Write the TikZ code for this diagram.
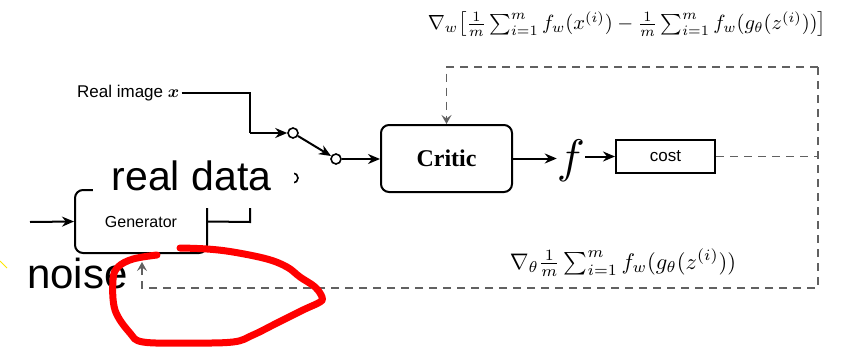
\documentclass[tikz,border=0pt]{standalone}
\usepackage{fontspec}
\usepackage{amsmath,bm}
\newfontfamily\arialf{Liberation Sans}
\newfontfamily\timesf{Liberation Serif}
\usetikzlibrary{arrows.meta}
\begin{document}
\begin{tikzpicture}[x=1pt,y=-1pt,
  blk/.style={draw=black,line width=2pt,rounded corners=8pt},
  arr/.style={line width=2pt,-{Stealth[length=12pt,width=10pt]}},
  fb/.style={draw=black!62,line width=1.8pt,dash pattern=on 8pt off 6pt},
  fbarr/.style={fb,-{Stealth[length=9pt,width=10pt,inset=3.5pt]}},
  contact/.style={circle,draw=black,line width=1.6pt,fill=white,minimum size=10pt,inner sep=0pt},
  lbl/.style={inner sep=0pt}
]
\useasboundingbox (0,0) rectangle (843,348);

% main blocks
\node[blk,minimum width=131pt,minimum height=67pt] (critic) at (446.5,158.5)
  {\timesf\bfseries\fontsize{24}{28}\selectfont Critic};
\node[lbl] (f) at (571,161) {\scalebox{4.7}{$f$}};
\node[draw=black,line width=2pt,minimum width=99pt,minimum height=33pt,inner sep=0pt] (cost) at (665.5,156.5)
  {\arialf\fontsize{17}{20}\selectfont cost};
\node[blk,minimum width=132pt,minimum height=63pt] (gen) at (141,221.5)
  {\arialf\fontsize{16}{19}\selectfont Generator};

% switch contacts
\node[contact] (c1) at (293,133) {};
\node[contact] (c2) at (336,159) {};
\node[contact] (c3) at (293,178) {};

% real image input
\node[anchor=west,inner sep=2pt] (real) at (75,93)
  {\arialf\fontsize{17}{20}\selectfont Real image $\boldsymbol{x}$};
\coordinate (b1) at (250,93);
\coordinate (b2) at (250,133);
\draw[line width=2pt] (real.east) -- (b1) -- (b2);
\draw[arr] (b2) -- (c1);
\draw[arr] (c1) -- (c2);
\draw[arr] (c2) -- (c2 -| critic.west);
\draw[arr] (critic.east) -- (critic.east -| f.west);
\draw[arr] (f.east |- cost.west) -- (cost.west);

% generator in/out
\coordinate (gin0) at (30,222);
\draw[arr] (gin0) -- (gen.west);
\coordinate (g1) at (250,222);
\coordinate (g2) at (250,178);
\draw[line width=2pt] (gen.east) -- (g1) -- (g2);
\draw[arr] (g2) -- (c3);

% feedback loops
\coordinate (tl) at (446.5,67);
\coordinate (tr) at (818,67);
\coordinate (br) at (818,288);
\coordinate (bl) at (142,288);
\coordinate (gfb) at (142,262);
\draw[fbarr] (tr) -- (tl) -- (critic.north);
\draw[fb] (cost.east) -- (cost.east -| tr);
\draw[fbarr] (tr) -- (br) -- (bl) -- (gfb);

% formulas
\node[lbl] (gw) at (627,24) {\scalebox{2.05}{$\nabla_w\big[\frac{1}{m}\sum_{i=1}^m f_w(x^{(i)}) - \frac{1}{m}\sum_{i=1}^m f_w(g_\theta(z^{(i)}))\big]$}};
\node[lbl] (gt) at (623,263) {\scalebox{2.25}{$\nabla_\theta\frac{1}{m}\sum_{i=1}^m f_w(g_\theta(z^{(i)}))$}};

% annotations
\node[fill=white,minimum width=201pt,minimum height=51pt,inner sep=0pt] (rdbox) at (193.5,182.5) {};
\node[anchor=base,inner sep=0pt] (rd) at (191.5,190) {\arialf\fontsize{41}{46}\selectfont real data};
\node[anchor=base west,inner sep=0pt] (noise) at (27,288) {\arialf\fontsize{42}{46}\selectfont noise};
\draw[yellow!90!orange,line width=1pt] (0,261) -- (7,268);
\draw[red,line width=7pt,line cap=round,line join=round] plot[smooth,tension=0.6] coordinates {
 (157,255) (133,259) (118,267) (113,280) (115,310) (130,333) (143,342) (187,343) (233,342)
 (253,335) (277,323) (303,310) (320,302) (322,297) (315,287) (300,277) (287,267) (267,259)
 (233,252) (207,249) (180,248)};
\end{tikzpicture}
\end{document}
